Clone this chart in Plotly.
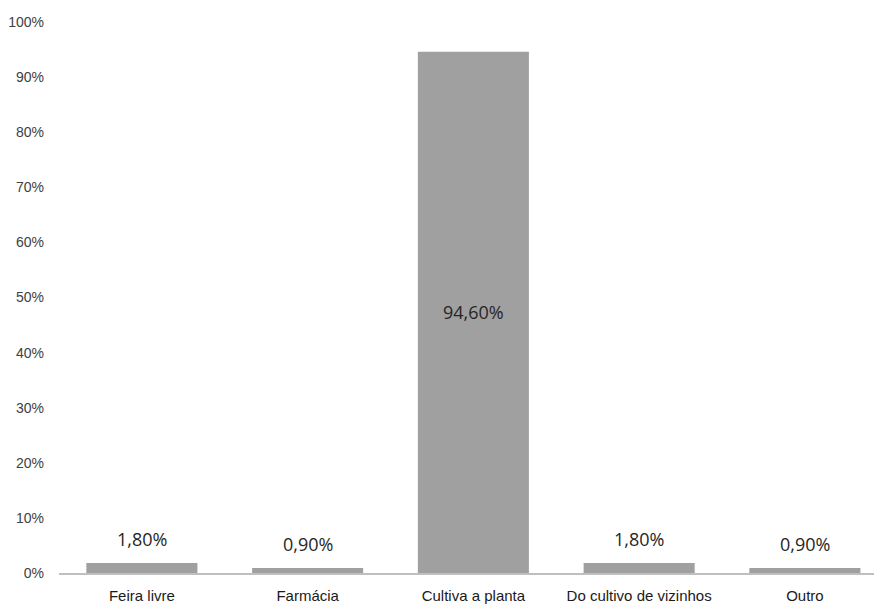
import plotly.graph_objects as go

categories = ["Feira livre", "Farmácia", "Cultiva a planta", "Do cultivo de vizinhos", "Outro"]
values = [1.8, 0.9, 94.6, 1.8, 0.9]
labels = ["1,80%", "0,90%", "94,60%", "1,80%", "0,90%"]
y_ticks = [0, 10, 20, 30, 40, 50, 60, 70, 80, 90, 100]
y_tick_text = ["0%", "10%", "20%", "30%", "40%", "50%", "60%", "70%", "80%", "90%", "100%"]

fig = go.Figure()
fig.add_trace(go.Bar(
    x=list(range(len(categories))),
    y=values,
    width=0.67,
    marker=dict(color="#a0a0a0", line=dict(width=0)),
    hoverinfo="skip",
))

for i, (v, t) in enumerate(zip(values, labels)):
    if v > 50:
        fig.add_annotation(x=i, y=v / 2, text=t, showarrow=False,
                           font=dict(family="Open Sans", size=18, color="#262626"))
    else:
        fig.add_annotation(x=i, y=v, text=t, showarrow=False, yanchor="bottom", yshift=10,
                           font=dict(family="Open Sans", size=18, color="#262626"))

fig.update_layout(
    width=874, height=604,
    margin=dict(l=59, r=0, t=22, b=31),
    paper_bgcolor="white", plot_bgcolor="white",
    showlegend=False,
    xaxis=dict(
        range=[-0.5, 4.417],
        tickvals=list(range(len(categories))),
        ticktext=categories,
        showgrid=False, zeroline=False,
        showline=True, linecolor="#bfbfbf", linewidth=2,
        ticks="", ticklabelstandoff=8,
        tickfont=dict(family="Liberation Sans, Arial", size=15, color="#1a1a1a"),
    ),
    yaxis=dict(
        range=[0, 100],
        tickvals=y_ticks,
        ticktext=y_tick_text,
        showgrid=False, zeroline=False, showline=False,
        ticks="", ticklabelstandoff=14,
        tickfont=dict(family="Liberation Sans, Arial", size=14, color="#404040"),
    ),
)

fig.write_html("out.html")
